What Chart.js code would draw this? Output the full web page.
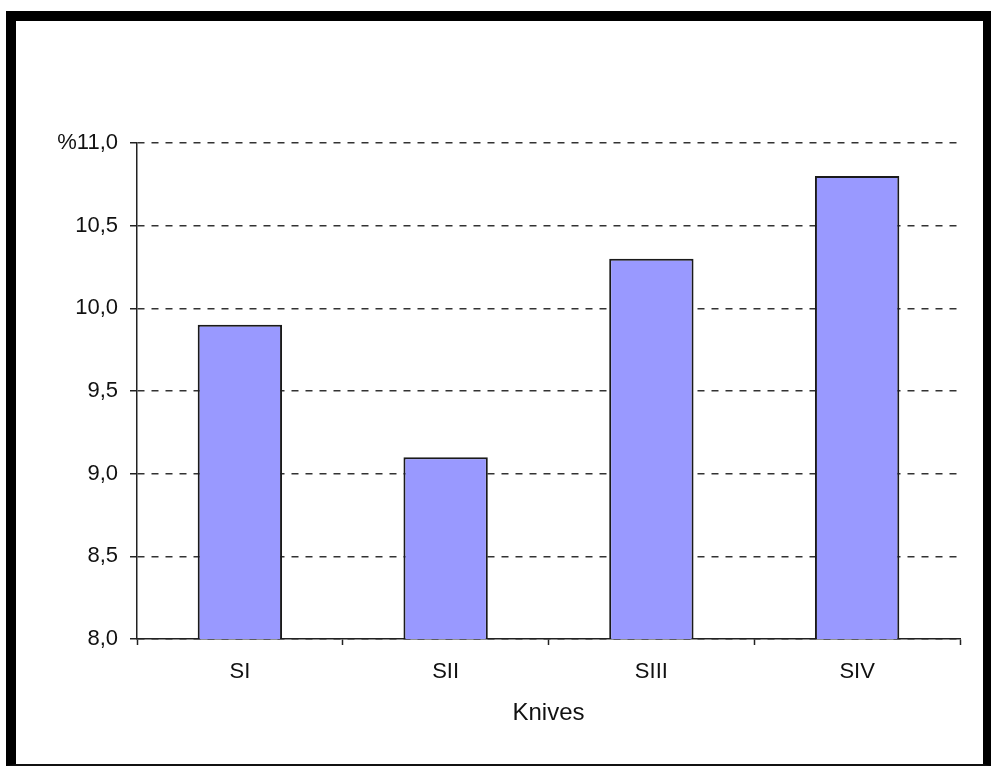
<!DOCTYPE html>
<html>
<head>
<meta charset="utf-8">
<script src="https://cdn.jsdelivr.net/npm/chart.js@4/dist/chart.umd.min.js"></script>
<style>
  html, body { margin: 0; padding: 0; background: #fff; }
  #wrap { position: relative; width: 991px; height: 767px; overflow: hidden; background: #fff; }
  #chart { position: absolute; left: 0; top: 0; }
  #frame {
    position: absolute; left: 6px; top: 11px; width: 985px; height: 755px;
    box-sizing: border-box; pointer-events: none;
    border-top: 10px solid #000; border-left: 10px solid #000;
    border-right: 8px solid #000; border-bottom: 2px solid #111;
  }
</style>
</head>
<body>
<div id="wrap">
  <canvas id="chart" width="991" height="767"></canvas>
  <div id="frame"></div>
</div>
<script>
// Knife types and the measured percentage for each
const categories = ['SI', 'SII', 'SIII', 'SIV'];
const values = [9.9, 9.1, 10.3, 10.8];

// Value axis range and its labels (decimal comma, unit on the top label)
const yMin = 8.0;
const yMax = 11.0;
const yStep = 0.5;
const yTickLabels = ['8,0', '8,5', '9,0', '9,5', '10,0', '10,5', '%11,0'];

const FONT = "'Liberation Sans', Arial, sans-serif";

new Chart(document.getElementById('chart'), {
  type: 'bar',
  data: {
    labels: categories,
    datasets: [{
      data: values,
      backgroundColor: '#9999ff',
      borderColor: '#1a1a1a',
      borderWidth: 2,
      categoryPercentage: 1.0,
      barPercentage: 0.41
    }]
  },
  options: {
    responsive: false,
    animation: false,
    events: [],
    layout: { padding: { left: 0, right: 31, top: 143, bottom: 0 } },
    plugins: { legend: { display: false }, tooltip: { enabled: false } },
    scales: {
      x: {
        grid: {
          offset: true,
          drawOnChartArea: false,
          drawTicks: true,
          tickLength: 6,
          tickColor: '#222',
          tickWidth: 1.5
        },
        border: { display: true, color: '#222', width: 1.5 },
        ticks: {
          color: '#111',
          padding: 14,
          font: { family: FONT, size: 22 }
        },
        title: {
          display: true,
          text: 'Knives',
          color: '#111',
          font: { family: FONT, size: 24 },
          padding: { top: 4, bottom: 39 }
        },
        afterFit: (scale) => { scale.height = 128; }
      },
      y: {
        min: yMin,
        max: yMax,
        ticks: {
          stepSize: yStep,
          color: '#111',
          padding: 12,
          font: { family: FONT, size: 22 },
          callback: (v, i) => yTickLabels[i]
        },
        grid: {
          color: '#333',
          lineWidth: 1.5,
          tickLength: 7,
          tickColor: '#222',
          tickWidth: 1.5,
          tickBorderDash: []
        },
        border: { display: true, color: '#222', width: 1.5, dash: [7, 7] },
        afterFit: (scale) => { scale.width = 137; }
      }
    }
  }
});
</script>
</body>
</html>
